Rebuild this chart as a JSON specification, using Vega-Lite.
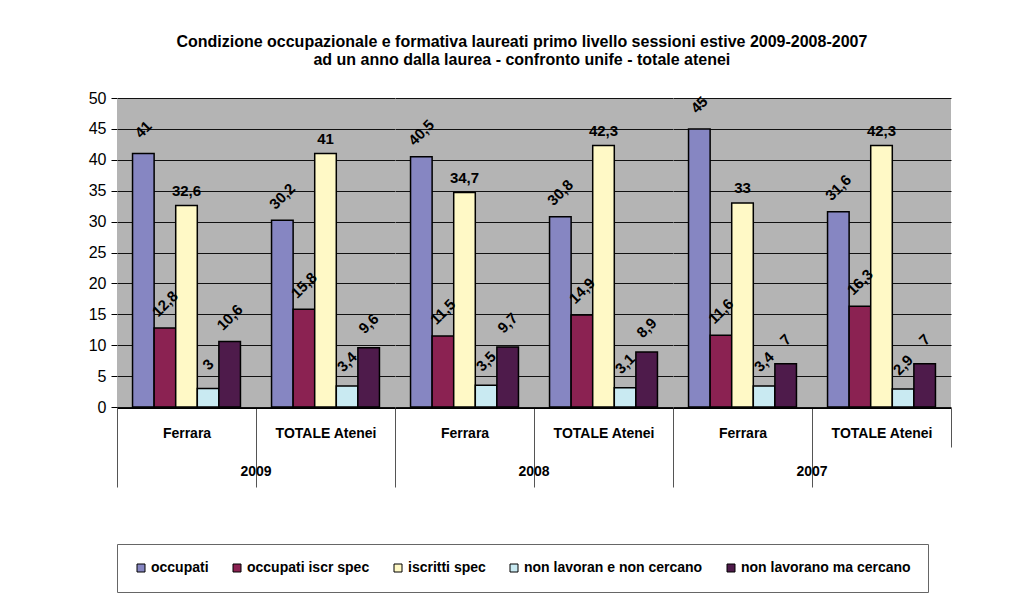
{
  "$schema": "https://vega.github.io/schema/vega-lite/v6.json",
  "padding": {"left": 88, "top": 34, "right": 10, "bottom": 5},
  "background": "white",
  "title": {
    "text": ["Condizione occupazionale e formativa laureati primo livello sessioni estive 2009-2008-2007", "ad un anno dalla laurea - confronto unife - totale atenei"],
    "fontSize": 16, "fontWeight": "bold", "font": "Liberation Sans", "color": "#000000",
    "anchor": "middle", "offset": 22, "dx": 2, "lineHeight": 18
  },
  "data": {"values": [
    {"anno": "2009", "gruppo": "Ferrara", "serie": "occupati", "valore": 41},
    {"anno": "2009", "gruppo": "Ferrara", "serie": "occupati iscr spec", "valore": 12.8},
    {"anno": "2009", "gruppo": "Ferrara", "serie": "iscritti spec", "valore": 32.6},
    {"anno": "2009", "gruppo": "Ferrara", "serie": "non lavoran e non cercano", "valore": 3},
    {"anno": "2009", "gruppo": "Ferrara", "serie": "non lavorano ma cercano", "valore": 10.6},
    {"anno": "2009", "gruppo": "TOTALE Atenei", "serie": "occupati", "valore": 30.2},
    {"anno": "2009", "gruppo": "TOTALE Atenei", "serie": "occupati iscr spec", "valore": 15.8},
    {"anno": "2009", "gruppo": "TOTALE Atenei", "serie": "iscritti spec", "valore": 41},
    {"anno": "2009", "gruppo": "TOTALE Atenei", "serie": "non lavoran e non cercano", "valore": 3.4},
    {"anno": "2009", "gruppo": "TOTALE Atenei", "serie": "non lavorano ma cercano", "valore": 9.6},
    {"anno": "2008", "gruppo": "Ferrara", "serie": "occupati", "valore": 40.5},
    {"anno": "2008", "gruppo": "Ferrara", "serie": "occupati iscr spec", "valore": 11.5},
    {"anno": "2008", "gruppo": "Ferrara", "serie": "iscritti spec", "valore": 34.7},
    {"anno": "2008", "gruppo": "Ferrara", "serie": "non lavoran e non cercano", "valore": 3.5},
    {"anno": "2008", "gruppo": "Ferrara", "serie": "non lavorano ma cercano", "valore": 9.7},
    {"anno": "2008", "gruppo": "TOTALE Atenei", "serie": "occupati", "valore": 30.8},
    {"anno": "2008", "gruppo": "TOTALE Atenei", "serie": "occupati iscr spec", "valore": 14.9},
    {"anno": "2008", "gruppo": "TOTALE Atenei", "serie": "iscritti spec", "valore": 42.3},
    {"anno": "2008", "gruppo": "TOTALE Atenei", "serie": "non lavoran e non cercano", "valore": 3.1},
    {"anno": "2008", "gruppo": "TOTALE Atenei", "serie": "non lavorano ma cercano", "valore": 8.9},
    {"anno": "2007", "gruppo": "Ferrara", "serie": "occupati", "valore": 45},
    {"anno": "2007", "gruppo": "Ferrara", "serie": "occupati iscr spec", "valore": 11.6},
    {"anno": "2007", "gruppo": "Ferrara", "serie": "iscritti spec", "valore": 33},
    {"anno": "2007", "gruppo": "Ferrara", "serie": "non lavoran e non cercano", "valore": 3.4},
    {"anno": "2007", "gruppo": "Ferrara", "serie": "non lavorano ma cercano", "valore": 7},
    {"anno": "2007", "gruppo": "TOTALE Atenei", "serie": "occupati", "valore": 31.6},
    {"anno": "2007", "gruppo": "TOTALE Atenei", "serie": "occupati iscr spec", "valore": 16.3},
    {"anno": "2007", "gruppo": "TOTALE Atenei", "serie": "iscritti spec", "valore": 42.3},
    {"anno": "2007", "gruppo": "TOTALE Atenei", "serie": "non lavoran e non cercano", "valore": 2.9},
    {"anno": "2007", "gruppo": "TOTALE Atenei", "serie": "non lavorano ma cercano", "valore": 7}
  ]},
  "facet": {
    "column": {
      "field": "anno", "type": "nominal", "sort": ["2009", "2008", "2007"],
      "header": {
        "title": null, "labelOrient": "bottom", "labelFontSize": 14, "labelFontWeight": "bold",
        "labelFont": "Liberation Sans", "labelColor": "#000000", "labelPadding": -23
      }
    }
  },
  "spacing": 0,
  "spec": {
    "width": 278,
    "height": 309,
    "encoding": {
      "x": {
        "field": "gruppo", "type": "nominal", "sort": ["Ferrara", "TOTALE Atenei"],
        "scale": {"paddingInner": 0, "paddingOuter": 0},
        "axis": {
          "title": null, "labelAngle": 0, "tickBand": "extent",
          "domainColor": "#000000", "tickColor": "#555555",
          "tickSize": {"condition": {"test": "datum.value === 'Ferrara' || datum.index !== 1", "value": 79}, "value": 39},
          "labelPadding": {"condition": {"test": "datum.value === 'Ferrara'", "value": -61}, "value": -21},
          "labelFontSize": 14, "labelFontWeight": "bold", "labelFont": "Liberation Sans", "labelColor": "#000000"
        }
      },
      "xOffset": {
        "field": "serie", "type": "nominal",
        "sort": ["occupati", "occupati iscr spec", "iscritti spec", "non lavoran e non cercano", "non lavorano ma cercano"],
        "scale": {"paddingInner": 0, "paddingOuter": 0.72}
      },
      "y": {
        "field": "valore", "type": "quantitative",
        "scale": {"domain": [0, 50], "nice": false},
        "axis": {
          "title": null, "values": [0, 5, 10, 15, 20, 25, 30, 35, 40, 45, 50],
          "grid": true, "gridColor": "#111111", "gridWidth": 1,
          "domainColor": "#000000", "tickColor": "#000000", "tickSize": 6,
          "labelFontSize": 16, "labelFont": "Liberation Sans", "labelColor": "#000000", "labelPadding": 5
        }
      }
    },
    "layer": [
      {
        "mark": {"type": "bar", "stroke": "#000000", "strokeWidth": 1.5},
        "encoding": {
          "color": {
            "field": "serie", "type": "nominal",
            "sort": ["occupati", "occupati iscr spec", "iscritti spec", "non lavoran e non cercano", "non lavorano ma cercano"],
            "scale": {
              "domain": ["occupati", "occupati iscr spec", "iscritti spec", "non lavoran e non cercano", "non lavorano ma cercano"],
              "range": ["#8686C2", "#8B2252", "#FFF9C6", "#C9EAF2", "#4E1B4B"]
            },
            "legend": {
              "title": null, "orient": "bottom", "direction": "horizontal",
              "symbolType": "square", "symbolSize": 64, "symbolStrokeColor": "#000000", "symbolStrokeWidth": 1,
              "labelFontSize": 14, "labelFontWeight": "bold", "labelFont": "Liberation Sans", "labelColor": "#000000",
              "labelLimit": 0, "columnPadding": 21, "labelOffset": 3,
              "strokeColor": "#666666", "padding": 17, "offset": 56
            }
          }
        }
      },
      {
        "transform": [{"filter": "datum.serie !== 'iscritti spec'"}],
        "mark": {"type": "text", "angle": 315, "align": "center", "baseline": "middle", "dx": 17, "dy": -17,
                 "fontSize": 15, "fontWeight": "bold", "font": "Liberation Sans", "color": "#000000"},
        "encoding": {"text": {"field": "valore", "type": "quantitative", "format": ",.1~f"}}
      },
      {
        "transform": [{"filter": "datum.serie === 'iscritti spec'"}],
        "mark": {"type": "text", "align": "center", "baseline": "bottom", "dy": -7,
                 "fontSize": 15, "fontWeight": "bold", "font": "Liberation Sans", "color": "#000000"},
        "encoding": {"text": {"field": "valore", "type": "quantitative", "format": ",.1~f"}}
      }
    ]
  },
  "config": {
    "view": {"fill": "#B4B4B4", "stroke": null},
    "locale": {"number": {"decimal": ",", "thousands": ".", "grouping": [3], "currency": ["€", ""]}}
  }
}
